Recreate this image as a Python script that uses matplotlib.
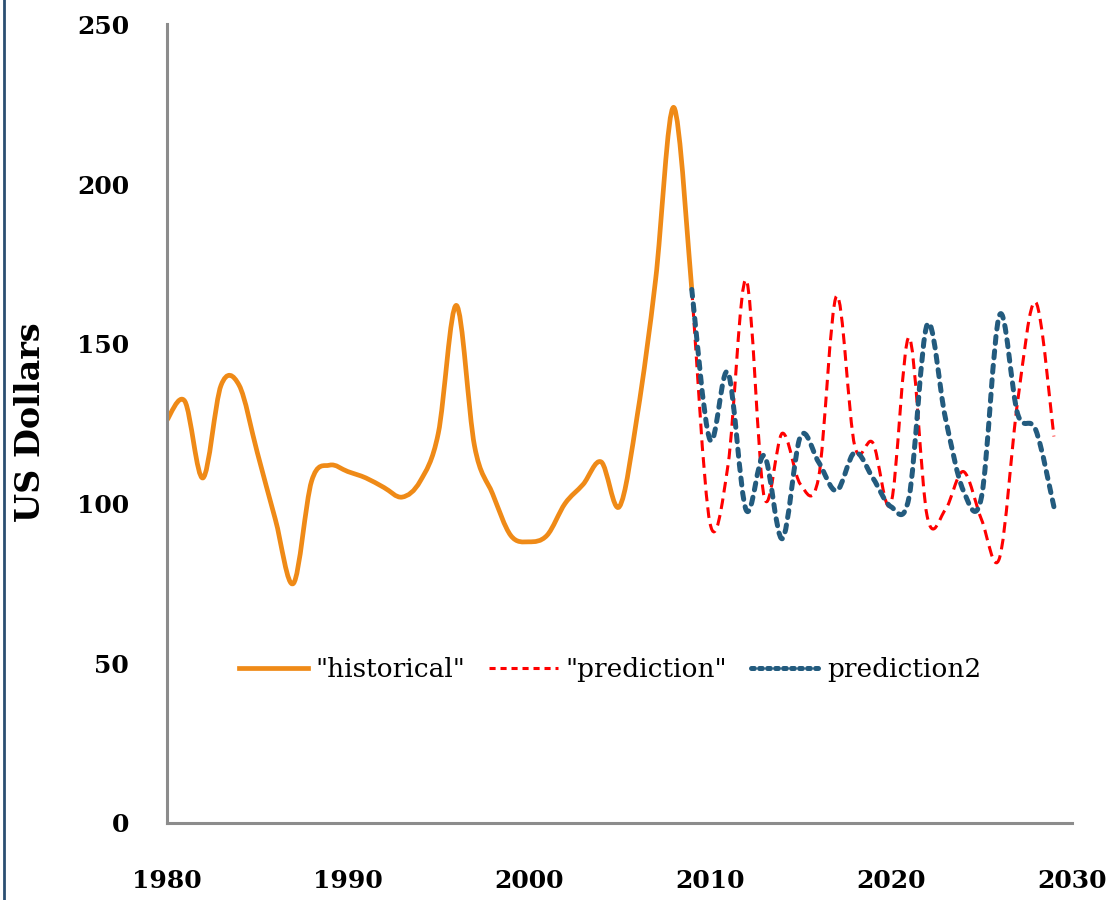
import matplotlib
matplotlib.use("Agg")
import matplotlib.pyplot as plt
from matplotlib.path import Path
from matplotlib.patches import PathPatch
from matplotlib.lines import Line2D

# ---- data (annual values) -------------------------------------------------
hist_years = list(range(1980, 2010))
hist_vals = [126, 132, 108, 137, 137, 116, 95, 75, 107, 112,
             110, 108, 105, 102, 107, 122, 162, 118, 103, 90,
             88, 90, 100, 106, 113, 99, 128, 170, 224, 167]

pred_years = list(range(2009, 2030))
pred_vals = [167, 94, 112, 170, 102, 122, 106, 108, 165, 118,
             119, 100, 152, 96, 98, 110, 95, 83, 132, 163, 121]
pred2_vals = [167, 120, 141, 98, 115, 89, 121, 113, 104, 116,
              108, 99, 102, 156, 127, 104, 102, 159, 128, 123, 99]

x_ticks = [1980, 1990, 2000, 2010, 2020, 2030]
y_ticks = [0, 50, 100, 150, 200, 250]

ORANGE = "#EF8A17"
RED = "#FF0000"
BLUE = "#235B7E"
FONT = "DejaVu Serif"


def smooth_path(xs, ys):
    """Excel-style smoothed line as cubic Bezier segments (Catmull-Rom)."""
    pts = list(zip(xs, ys))
    verts = [pts[0]]
    codes = [Path.MOVETO]
    n = len(pts)
    for i in range(n - 1):
        p0 = pts[i - 1] if i > 0 else pts[i]
        p1 = pts[i]
        p2 = pts[i + 1]
        p3 = pts[i + 2] if i + 2 < n else pts[i + 1]
        c1 = (p1[0] + (p2[0] - p0[0]) / 6, p1[1] + (p2[1] - p0[1]) / 6)
        c2 = (p2[0] - (p3[0] - p1[0]) / 6, p2[1] - (p3[1] - p1[1]) / 6)
        verts += [c1, c2, p2]
        codes += [Path.CURVE4] * 3
    return Path(verts, codes)


fig = plt.figure(figsize=(11.19, 9.0), dpi=100)
ax = fig.add_axes([0.149, 0.0856, 0.809, 0.8874])

styles = [
    (hist_years, hist_vals, dict(color=ORANGE, lw=3.4, ls="solid", capstyle="round")),
    (pred_years, pred_vals, dict(color=RED, lw=2.2, ls=(0, (3.5, 2.0)), capstyle="butt")),
    (pred_years, pred2_vals, dict(color=BLUE, lw=3.6, ls=(0, (1.4, 1.5)), capstyle="round")),
]
for z, (xs, ys, st) in enumerate(styles):
    patch = PathPatch(smooth_path(xs, ys), fill=False, edgecolor=st["color"],
                      linewidth=st["lw"], linestyle=st["ls"], zorder=2 + z)
    patch.set_capstyle(st["capstyle"])
    patch.set_joinstyle("round")
    ax.add_patch(patch)

ax.set_xlim(1980, 2030)
ax.set_ylim(0, 250)
ax.set_xticks(x_ticks)
ax.set_yticks(y_ticks)
ax.tick_params(length=0)
ax.tick_params(axis="x", pad=33)
ax.tick_params(axis="y", pad=27)
for lab in ax.get_xticklabels() + ax.get_yticklabels():
    lab.set_fontfamily(FONT)
    lab.set_fontweight("bold")
    lab.set_fontsize(18)

for side in ("top", "right"):
    ax.spines[side].set_visible(False)
for side in ("left", "bottom"):
    ax.spines[side].set_color("#8C8C8C")
    ax.spines[side].set_linewidth(2.2)

fig.text(31 / 1119, 1 - 422 / 900, "US Dollars", rotation=90, ha="center",
         va="center", fontsize=24, fontweight="bold", family=FONT)

handles = [
    Line2D([], [], color=ORANGE, lw=3.4),
    Line2D([], [], color=RED, lw=2.2, ls=(0, (2.0, 1.6))),
    Line2D([], [], color=BLUE, lw=3.6, ls=(0, (0.6, 1.0)), dash_capstyle="round"),
]
ax.legend(handles, ['"historical"', '"prediction"', "prediction2"],
          loc="center", bbox_to_anchor=(0.49, 0.192), ncol=3, frameon=False,
          handlelength=2.6, handletextpad=0.3, columnspacing=0.9,
          prop={"family": FONT, "size": 19})

# thin dark frame edge visible on the left of the picture
fig.add_artist(Line2D([0.004, 0.004], [0, 1], transform=fig.transFigure,
                      color="#2B4F72", lw=2.0))

fig.savefig("out.png", dpi=100)
